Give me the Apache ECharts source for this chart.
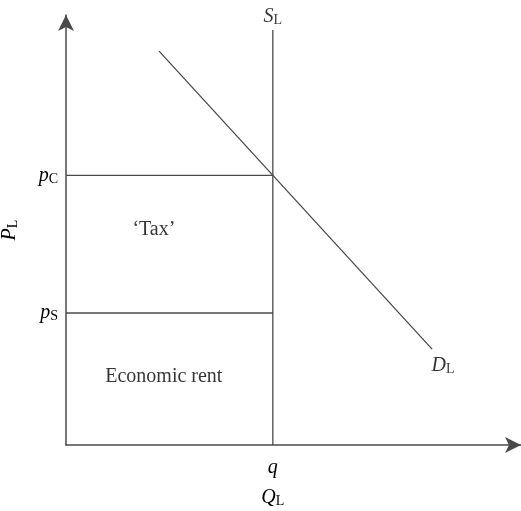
<!DOCTYPE html>
<html>
<head>
<meta charset="utf-8">
<script src="https://cdn.jsdelivr.net/npm/echarts@6/dist/echarts.min.js"></script>
<style>
  html, body { margin: 0; padding: 0; background: #fff; }
  #main { width: 521px; height: 511px; }
</style>
</head>
<body>
<div id="main"></div>
<script>
// data (abstract units: q = 10, price axis 0..100)
var qTicks = [10];
var priceTicks = [30.7, 62.7];          // pS, pC
var priceNames = { 30.7: 'S', 62.7: 'C' };
var supplyX = [10, 10];
var supplyY = [0, 96.5];
var demandX = [4.5, 17.7];
var demandY = [91.6, 22.3];
var taxX = [0, 10];
var pcY = [62.7, 62.7];
var psY = [30.7, 30.7];
var textNotes = ['\u2018Tax\u2019', 'Economic rent'];
var notePos = [[4.25, 50], [4.73, 15.8]];

var serif = 'Liberation Serif';
var lineColor = '#4a4a4a';
var rich = {
    i: { fontFamily: serif, fontStyle: 'italic', fontSize: 20, color: '#000' },
    s: { fontFamily: serif, fontSize: 14, color: '#000', padding: [7, 0, 0, 0] }
};

function pairs(xs, ys) {
    return xs.map(function (x, k) { return [x, ys[k]]; });
}

var chart = echarts.init(document.getElementById('main'));

function plainLine(data) {
    return {
        type: 'line',
        data: data,
        symbol: 'none',
        silent: true,
        lineStyle: { color: lineColor, width: 1.3 }
    };
}

// curve names sit at the far end of each line
var curveLabels = [
    {
        value: [supplyX[1], supplyY[1]],
        label: { position: 'top', distance: 3, formatter: '{i|S}{s|L}' }
    },
    {
        value: [demandX[1], demandY[1]],
        label: { position: 'bottom', distance: 5, offset: [11, 1], formatter: '{i|D}{s|L}' }
    }
];

var option = {
    animation: false,
    grid: { left: 66, top: 15, right: 0, bottom: 66, outerBoundsMode: 'none', containLabel: false },
    xAxis: {
        type: 'value',
        min: 0,
        max: 22,
        splitLine: { show: false },
        axisTick: { show: false },
        axisLine: {
            onZero: false,
            symbol: ['none', 'arrow'],
            symbolSize: [12, 16],
            lineStyle: { color: lineColor, width: 1.5 }
        },
        axisLabel: {
            customValues: qTicks,
            margin: 8,
            lineHeight: 30,
            formatter: function () { return '{i|q}\n{i|Q}{s|L}'; },
            rich: rich
        }
    },
    yAxis: {
        type: 'value',
        min: 0,
        max: 100,
        splitLine: { show: false },
        axisTick: { show: false },
        axisLine: {
            onZero: false,
            symbol: ['none', 'arrow'],
            symbolSize: [12, 16],
            lineStyle: { color: lineColor, width: 1.5 }
        },
        axisLabel: {
            customValues: priceTicks,
            margin: 8,
            formatter: function (v) { return '{i|p}{s|' + priceNames[v] + '}'; },
            rich: rich
        },
        name: '{i|P}{s|L}',
        nameLocation: 'middle',
        nameRotate: 90,
        nameGap: 46,
        nameTextStyle: { rich: rich }
    },
    series: [
        plainLine(pairs(taxX, pcY)),
        plainLine(pairs(taxX, psY)),
        plainLine(pairs(supplyX, supplyY)),
        plainLine(pairs(demandX, demandY)),
        {
            type: 'scatter',
            symbolSize: 0,
            silent: true,
            data: curveLabels,
            label: { show: true, rich: rich }
        },
        {
            type: 'scatter',
            symbolSize: 0,
            silent: true,
            data: notePos.map(function (p, k) {
                return { value: p, name: textNotes[k] };
            }),
            label: {
                show: true,
                position: 'inside',
                formatter: '{b}',
                fontFamily: serif,
                fontSize: 20,
                color: '#000'
            }
        }
    ]
};

chart.setOption(option);
</script>
</body>
</html>
